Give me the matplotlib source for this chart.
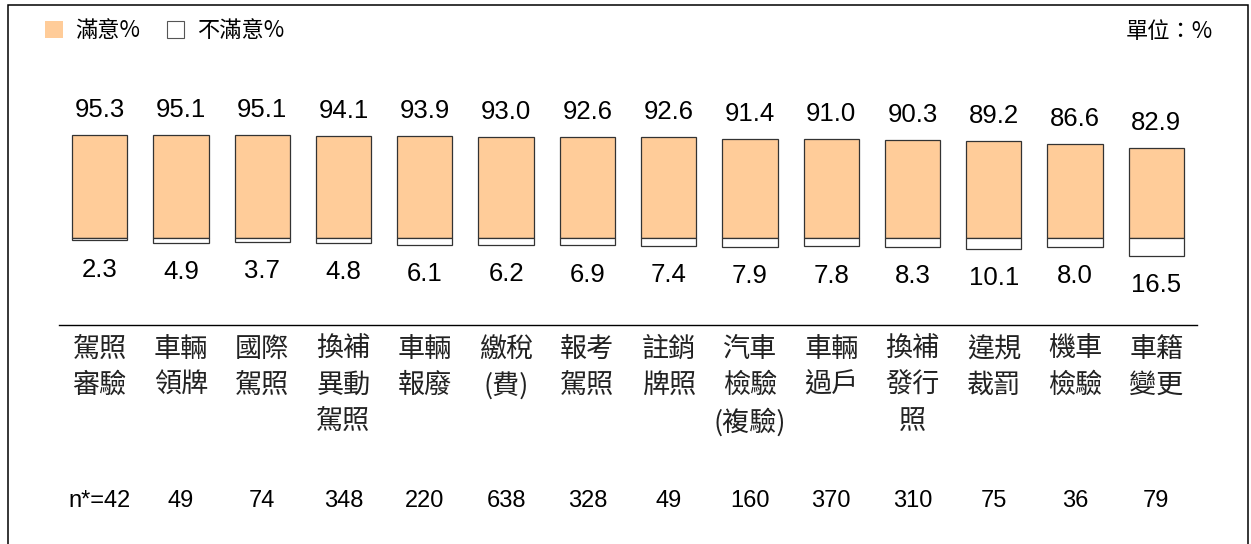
import matplotlib
matplotlib.use("Agg")
import matplotlib.pyplot as plt
from matplotlib.patches import Patch, Rectangle
from matplotlib.transforms import blended_transform_factory
import numpy as np

categories = ["駕照\n審驗", "車輛\n領牌", "國際\n駕照", "換補\n異動\n駕照", "車輛\n報廢",
              "繳稅\n(費)", "報考\n駕照", "註銷\n牌照", "汽車\n檢驗\n(複驗)", "車輛\n過戶",
              "換補\n發行\n照", "違規\n裁罰", "機車\n檢驗", "車籍\n變更"]
satisfied = [95.3, 95.1, 95.1, 94.1, 93.9, 93.0, 92.6, 92.6, 91.4, 91.0, 90.3, 89.2, 86.6, 82.9]
unsatisfied = [2.3, 4.9, 3.7, 4.8, 6.1, 6.2, 6.9, 7.4, 7.9, 7.8, 8.3, 10.1, 8.0, 16.5]
sample_n = ["n*=42", "49", "74", "348", "220", "638", "328", "49", "160", "370", "310", "75", "36", "79"]

ORANGE = "#FFCC99"
CJK = ["Noto Sans CJK TC", "DejaVu Sans"]
NUM = ["Liberation Sans", "DejaVu Sans"]

W, H = 1251, 544
fig = plt.figure(figsize=(W / 100, H / 100), dpi=100)
ax = fig.add_axes([59 / W, 1 - 325 / H, (1197 - 59) / W, (325 - 5) / H])

x = np.arange(len(categories))
ax.bar(x, satisfied, width=0.68, color=ORANGE, edgecolor="#333333", linewidth=0.9)
ax.bar(x, [-v for v in unsatisfied], width=0.68, color="white", edgecolor="#333333", linewidth=0.9)

for xi, s, u in zip(x, satisfied, unsatisfied):
    ax.annotate(f"{s:.1f}", (xi, s), xytext=(0, 13), textcoords="offset points",
                ha="center", va="baseline", fontsize=18.5, family=NUM)
    ax.annotate(f"{u:.1f}", (xi, -u), xytext=(0, -26), textcoords="offset points",
                ha="center", va="baseline", fontsize=18.5, family=NUM)

ax.set_xlim(-0.5, len(categories) - 0.5)
ax.set_ylim(-80.2, 214.7)
ax.set_yticks([])
for side in ("top", "left", "right"):
    ax.spines[side].set_visible(False)
ax.spines["bottom"].set_linewidth(1.0)
ax.set_xticks(x)
ax.set_xticklabels(categories, fontsize=19.5, family=CJK, linespacing=1.42, va="top", color="#222222")
ax.tick_params(axis="x", length=0, pad=8)

# sample sizes under each category
n_trans = blended_transform_factory(ax.transData, fig.transFigure)
for xi, n in zip(x, sample_n):
    ax.text(xi, 1 - 507 / H, n, transform=n_trans,
            ha="center", va="baseline", fontsize=17, family=NUM)

handles = [Patch(facecolor=ORANGE, edgecolor="none", label="滿意%"),
           Patch(facecolor="white", edgecolor="#555555", linewidth=0.8, label="不滿意%")]
fig.legend(handles=handles, loc="upper left", bbox_to_anchor=(45 / W, 1 - 19 / H), ncol=2,
           frameon=False, prop={"family": CJK, "size": 16},
           handlelength=0.8, handleheight=0.8, handletextpad=0.55, columnspacing=1.2,
           borderpad=0, borderaxespad=0)

fig.text(1213 / W, 1 - 31 / H, "單位：%", ha="right", va="center", fontsize=16, family=CJK)

fig.patches.append(Rectangle((8 / W, -0.05), (1248 - 8) / W, 1.05 - 5 / H, transform=fig.transFigure,
                             facecolor="none", edgecolor="black", linewidth=1.1))

fig.savefig("out.png", dpi=100)
